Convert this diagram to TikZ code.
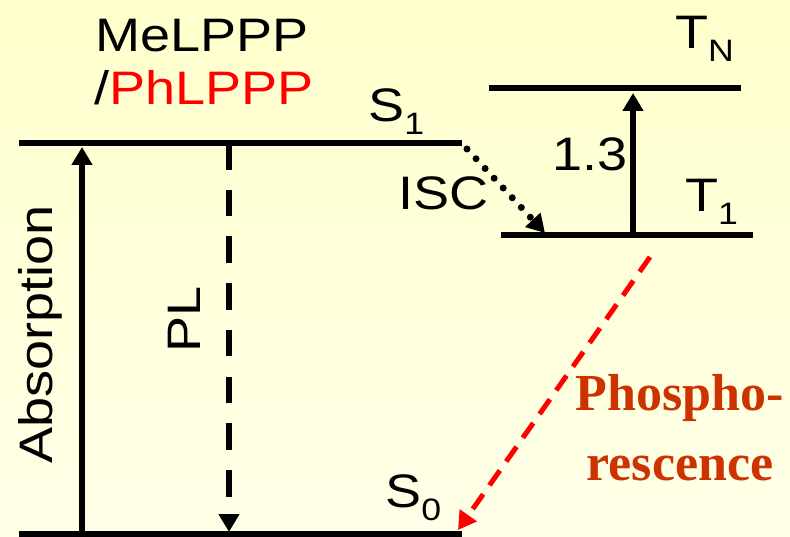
\documentclass[tikz,border=0pt]{standalone}
\usepackage{fontspec}
\setmainfont{Liberation Sans}[FakeStretch=1.15]
\newfontfamily\phosfont{Liberation Serif}
\usetikzlibrary{arrows.meta,positioning}
\definecolor{bgtop}{RGB}{255,255,204}
\definecolor{bgbot}{RGB}{255,255,232}
\definecolor{phosred}{RGB}{204,51,0}
\newcommand{\lev}[2]{#1\raisebox{-13pt}{\fontsize{31}{31}\selectfont #2}}

\begin{document}
\begin{tikzpicture}[x=1pt, y=-1pt,
  level/.style={line width=6.5pt},
  arr/.style={line width=6pt, -{Triangle[width=20pt,length=18pt]}},
  lbl/.style={inner sep=0pt, anchor=base west, font=\fontsize{47}{56}\selectfont},
  phos/.style={inner sep=0pt, align=center, text=phosred, font=\phosfont\bfseries\fontsize{52}{63}\selectfont}
]
\shade[top color=bgtop, bottom color=bgbot] (0,0) rectangle (790,537);
\useasboundingbox (0,0) rectangle (790,537);

% energy levels
\coordinate (s1l) at (19,143);  \coordinate (s1r) at (462,143);
\coordinate (s0l) at (19,534);  \coordinate (s0r) at (462,534);
\coordinate (tnl) at (489,88);  \coordinate (tnr) at (741,88);
\coordinate (t1l) at (501,235); \coordinate (t1r) at (753,235);
\draw[level] (s1l) -- (s1r);
\draw[level] (s0l) -- (s0r);
\draw[level] (tnl) -- (tnr);
\draw[level] (t1l) -- (t1r);

% labels
\node[lbl] (mel) at (95,52) {MeLPPP};
\node[lbl] (phl) at (94,105) {/\textcolor{red}{PhLPPP}};
\node[lbl] (s1) at (368,122) {\lev{S}{1}};
\node[lbl] (s0) at (385,507) {\lev{S}{0}};
\node[lbl] (tn) at (675,49) {\lev{T}{N}};
\node[lbl] (t1) at (685,212) {\lev{T}{1}};
\node[lbl] (isc) at (398,210) {ISC};
\node[lbl] (num) at (552,171) {1.3};
\node[lbl, rotate=90] (abs) at (52,464) {Absorption};
\node[lbl, rotate=90] (pl) at (200,353) {PL};
\node[phos, anchor=north] (ph) at (680,374) {Phospho-\\[7pt]rescence};

% transitions
\coordinate (absb) at (82,534);  \coordinate (abst) at (82,147);
\coordinate (plt) at (229,143);  \coordinate (plb) at (229,532);
\coordinate (isca) at (467,149); \coordinate (iscb) at (545,233);
\coordinate (tta) at (633,235);  \coordinate (ttb) at (633,93);
\coordinate (pha) at (650,257);  \coordinate (phb) at (458,530);
\draw[arr] (absb) -- (abst);
\draw[arr, dash pattern=on 26.7pt off 20pt] (plt) -- (plb);
\draw[arr, line width=7pt, line cap=round, dash pattern=on 0pt off 13.3pt,
  -{Triangle[width=20pt,length=18pt,line cap=butt]}] (isca) -- (iscb);
\draw[arr] (tta) -- (ttb);
\draw[arr, line width=5pt, red, dash pattern=on 18pt off 11pt] (pha) -- (phb);
\end{tikzpicture}
\end{document}
